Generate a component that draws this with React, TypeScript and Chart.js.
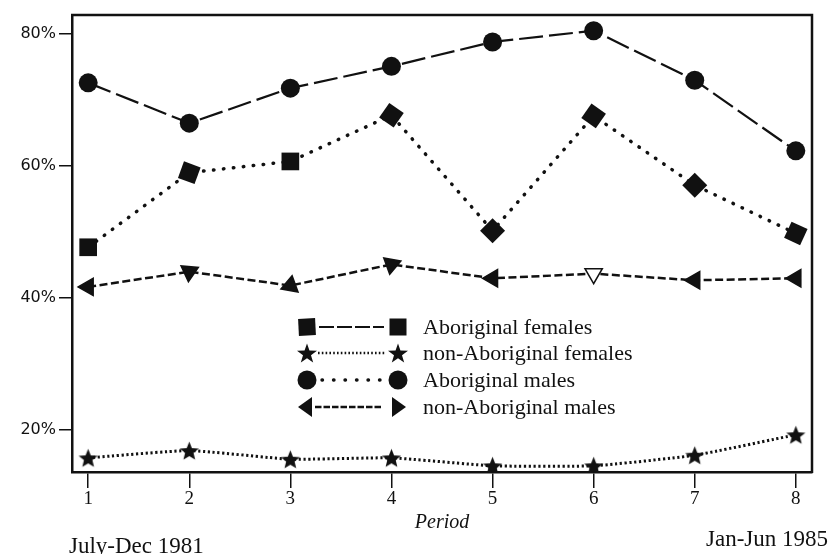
import React, { useEffect, useRef } from "react";
import { Chart, registerables } from "chart.js";

Chart.register(...registerables);

// ---------- data ----------
const periods = [1, 2, 3, 4, 5, 6, 7, 8];
const xTickValues = [1, 2, 3, 4, 5, 6, 7, 8];
const yTickValues = [20, 40, 60, 80];
const aboriginalFemales = [47.6, 58.9, 60.6, 67.6, 50.1, 67.5, 57.0, 49.7];
const nonAboriginalFemales = [15.7, 16.8, 15.5, 15.7, 14.5, 14.5, 16.1, 19.2];
const aboriginalMales = [72.5, 66.4, 71.7, 75.0, 78.7, 80.4, 72.9, 62.2];
const nonAboriginalMales = [41.6, 43.9, 41.8, 45.0, 42.9, 43.6, 42.6, 42.9];
const seriesLabels = [
  "Aboriginal females",
  "non-Aboriginal females",
  "Aboriginal males",
  "non-Aboriginal males",
];
const axisTitle = "Period";
const startLabel = "July-Dec 1981";
const endLabel = "Jan-Jun 1985";

const INK = "#111";
const SERIF = '"Liberation Serif", "Times New Roman", serif';
const SANS = '"DejaVu Sans", sans-serif';

function starPath(ctx: CanvasRenderingContext2D, cx: number, cy: number, R: number, r: number) {
  ctx.beginPath();
  for (let i = 0; i < 10; i++) {
    const a = -Math.PI / 2 + (i * Math.PI) / 5;
    const rad = i % 2 === 0 ? R : r;
    const px = cx + Math.cos(a) * rad;
    const py = cy + Math.sin(a) * rad;
    if (i === 0) ctx.moveTo(px, py);
    else ctx.lineTo(px, py);
  }
  ctx.closePath();
}

function makeStar(size: number) {
  const c = document.createElement("canvas");
  c.width = size;
  c.height = size;
  const g = c.getContext("2d")!;
  g.fillStyle = INK;
  starPath(g, size / 2, size / 2 + 1, size / 2 - 0.5, size * 0.21);
  g.fill();
  return c;
}

function toPoints(vals: number[]) {
  return periods.map((p, i) => ({ x: p, y: vals[i] }));
}

function drawLegendMarker(ctx: CanvasRenderingContext2D, kind: string, x: number, y: number, right: boolean) {
  ctx.save();
  ctx.fillStyle = INK;
  ctx.strokeStyle = INK;
  if (kind === "square") {
    ctx.translate(x, y);
    ctx.rotate(right ? 0 : -0.05);
    ctx.fillRect(-8.5, -8.5, 17, 17);
  } else if (kind === "star") {
    starPath(ctx, x, y + 1, 10.5, 4.2);
    ctx.fill();
  } else if (kind === "circle") {
    ctx.beginPath();
    ctx.arc(x, y, 9.5, 0, Math.PI * 2);
    ctx.fill();
  } else if (kind === "triangle") {
    ctx.beginPath();
    if (right) {
      ctx.moveTo(x + 8, y);
      ctx.lineTo(x - 6, y - 10);
      ctx.lineTo(x - 6, y + 10);
    } else {
      ctx.moveTo(x - 9, y);
      ctx.lineTo(x + 5, y - 10);
      ctx.lineTo(x + 5, y + 10);
    }
    ctx.closePath();
    ctx.fill();
  }
  ctx.restore();
}

const legendStyles = [
  { kind: "square", dash: [15, 3], width: 2, cap: "butt", x0: 319, x1: 384 },
  { kind: "star", dash: [1.6, 2.2], width: 2.6, cap: "butt", x0: 318, x1: 386 },
  { kind: "circle", dash: [0.5, 11], width: 3.4, cap: "round", x0: 322, x1: 382 },
  { kind: "triangle", dash: [6.5, 2], width: 2.4, cap: "butt", x0: 315, x1: 382 },
];
const legendRowsY = [327, 353, 380, 407];

const framePlugin = {
  id: "frameAndLegend",
  afterDraw(chart: any) {
    const { ctx, chartArea } = chart;
    const { left, right, top, bottom } = chartArea;
    ctx.save();
    // top and right frame
    ctx.strokeStyle = INK;
    ctx.lineWidth = 2.5;
    ctx.beginPath();
    ctx.moveTo(left - 1, top);
    ctx.lineTo(right, top);
    ctx.lineTo(right, bottom + 1);
    ctx.stroke();

    // legend
    legendStyles.forEach((st, i) => {
      const y = legendRowsY[i];
      ctx.save();
      ctx.strokeStyle = INK;
      ctx.lineWidth = st.width;
      ctx.lineCap = st.cap as CanvasLineCap;
      ctx.setLineDash(st.dash);
      ctx.beginPath();
      ctx.moveTo(st.x0, y);
      ctx.lineTo(st.x1, y);
      ctx.stroke();
      ctx.restore();
      drawLegendMarker(ctx, st.kind, 307, y, false);
      drawLegendMarker(ctx, st.kind, 398, y, true);
      ctx.fillStyle = INK;
      ctx.font = `22px ${SERIF}`;
      ctx.textAlign = "left";
      ctx.textBaseline = "middle";
      ctx.fillText(seriesLabels[i], 423, y + 1);
    });

    // period range labels
    ctx.fillStyle = INK;
    ctx.font = `23px ${SERIF}`;
    ctx.textBaseline = "middle";
    ctx.textAlign = "left";
    ctx.fillText(startLabel, 69, 547);
    ctx.textAlign = "right";
    ctx.fillText(endLabel, 828, 540);
    ctx.restore();
  },
};

export default function App() {
  const canvasRef = useRef<HTMLCanvasElement | null>(null);

  useEffect(() => {
    document.body.style.margin = "0";
    document.body.style.background = "#fff";
    const canvas = canvasRef.current;
    if (!canvas) return;
    const star = makeStar(21);

    const chart = new Chart(canvas, {
      type: "line",
      data: {
        datasets: [
          {
            label: seriesLabels[0],
            data: toPoints(aboriginalFemales),
            borderColor: INK,
            borderWidth: 3.5,
            borderDash: [0.5, 9.5],
            borderCapStyle: "round",
            pointStyle: "rect",
            pointRadius: 12.5,
            pointRotation: [0, 20, 0, 35, 45, 35, 45, 25],
            pointBackgroundColor: INK,
            pointBorderColor: INK,
            pointBorderWidth: 0,
            tension: 0,
          },
          {
            label: seriesLabels[1],
            data: toPoints(nonAboriginalFemales),
            borderColor: INK,
            borderWidth: 3,
            borderDash: [2.2, 2.6],
            pointStyle: star as any,
            pointRadius: 10,
            tension: 0.15,
          },
          {
            label: seriesLabels[2],
            data: toPoints(aboriginalMales),
            borderColor: INK,
            borderWidth: 2.2,
            borderDash: [24, 6],
            pointStyle: "circle",
            pointRadius: 9.5,
            pointBackgroundColor: INK,
            pointBorderColor: INK,
            pointBorderWidth: 0,
            tension: 0,
          },
          {
            label: seriesLabels[3],
            data: toPoints(nonAboriginalMales),
            borderColor: INK,
            borderWidth: 2.5,
            borderDash: [8, 3.5],
            pointStyle: "triangle",
            pointRadius: 10,
            pointRotation: [270, 185, 250, 190, 270, 180, 270, 270],
            pointBackgroundColor: [INK, INK, INK, INK, INK, "#fff", INK, INK],
            pointBorderColor: INK,
            pointBorderWidth: 1.5,
            tension: 0,
          },
        ],
      },
      options: {
        responsive: false,
        animation: false,
        events: [],
        layout: { padding: { top: 15, right: 19, left: 0, bottom: 18 } },
        plugins: {
          legend: { display: false },
          tooltip: { enabled: false },
        },
        scales: {
          x: {
            type: "linear",
            min: 0.84,
            max: 8.16,
            afterBuildTicks: (s: any) => {
              s.ticks = xTickValues.map((v) => ({ value: v }));
            },
            afterFit: (s: any) => {
              s.height = 64;
            },
            border: { display: true, color: INK, width: 2.5 },
            grid: {
              display: true,
              drawOnChartArea: false,
              drawTicks: true,
              tickLength: 16,
              color: INK,
              lineWidth: 1.5,
            },
            ticks: {
              color: INK,
              font: { family: SERIF, size: 19 },
              padding: 0,
              maxRotation: 0,
              autoSkip: false,
              callback: (v: any) => String(v),
            },
            title: {
              display: true,
              text: axisTitle,
              color: INK,
              font: { family: SERIF, size: 20, style: "italic" },
              padding: { top: 0, bottom: 1 },
            },
          },
          y: {
            type: "linear",
            min: 13.56,
            max: 82.78,
            afterBuildTicks: (s: any) => {
              s.ticks = yTickValues.map((v) => ({ value: v }));
            },
            afterFit: (s: any) => {
              s.width = 72;
            },
            border: { display: true, color: INK, width: 2.5 },
            grid: {
              display: true,
              drawOnChartArea: false,
              drawTicks: true,
              tickLength: 13,
              color: INK,
              lineWidth: 1.5,
            },
            ticks: {
              color: INK,
              font: { family: SANS, size: 16 },
              padding: 3,
              autoSkip: false,
              callback: (v: any) => `${v}%`,
            },
          },
        },
      },
      plugins: [framePlugin],
    } as any);

    return () => chart.destroy();
  }, []);

  return (
    <div style={{ width: 831, height: 554, background: "#fff" }}>
      <canvas ref={canvasRef} width={831} height={554} style={{ display: "block" }} />
    </div>
  );
}
